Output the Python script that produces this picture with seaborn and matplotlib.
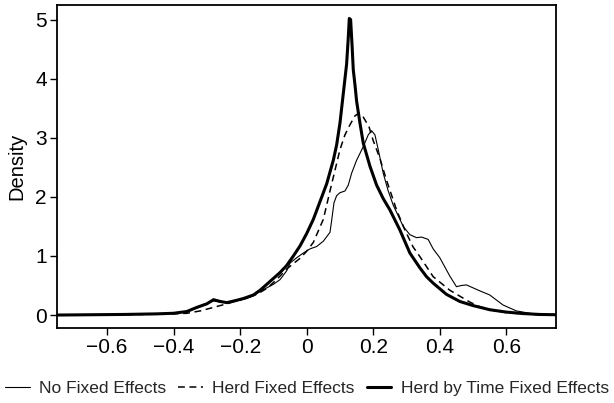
"""
Density of estimated effects under different fixed effect specifications
"""

# Importing libraries
import seaborn as sns
import matplotlib.pyplot as plt

# data
x_none = [-0.75, -0.65, -0.55, -0.45, -0.4, -0.36, -0.33, -0.3, -0.28, -0.26, -0.24,
          -0.21, -0.18, -0.16, -0.14, -0.12, -0.1, -0.08, -0.06, -0.05, -0.03, -0.01,
          0.01, 0.03, 0.05, 0.07, 0.075, 0.082, 0.09, 0.1, 0.115, 0.125, 0.135, 0.15,
          0.17, 0.185, 0.195, 0.205, 0.215, 0.23, 0.245, 0.26, 0.29, 0.31, 0.33, 0.345,
          0.365, 0.38, 0.4, 0.43, 0.45, 0.465, 0.48, 0.5, 0.52, 0.55, 0.59, 0.63, 0.67,
          0.7, 0.75]
y_none = [0.0, 0.005, 0.01, 0.02, 0.03, 0.06, 0.12, 0.19, 0.24, 0.22, 0.21,
          0.24, 0.28, 0.33, 0.40, 0.46, 0.52, 0.60, 0.75, 0.88, 0.97, 1.05,
          1.12, 1.16, 1.25, 1.40, 1.60, 1.90, 2.02, 2.07, 2.10, 2.20, 2.40, 2.62,
          2.85, 3.05, 3.12, 3.05, 2.80, 2.40, 2.10, 1.86, 1.50, 1.36, 1.31, 1.32,
          1.28, 1.12, 0.97, 0.66, 0.48, 0.50, 0.51, 0.46, 0.41, 0.34, 0.17, 0.07, 0.03,
          0.01, 0.0]

x_herd = [-0.75, -0.6, -0.5, -0.4, -0.36, -0.32, -0.28, -0.24, -0.21, -0.18, -0.15,
          -0.12, -0.1, -0.08, -0.06, -0.04, -0.02, 0.0, 0.02, 0.05, 0.07, 0.085, 0.1,
          0.115, 0.13, 0.145, 0.157, 0.17, 0.187, 0.2, 0.22, 0.24, 0.27, 0.295, 0.32,
          0.34, 0.38, 0.43, 0.49, 0.52, 0.56, 0.6, 0.65, 0.7, 0.75]
y_herd = [0.0, 0.005, 0.01, 0.02, 0.03, 0.07, 0.13, 0.19, 0.24, 0.29, 0.35,
          0.45, 0.55, 0.66, 0.78, 0.87, 0.96, 1.08, 1.23, 1.62, 2.10, 2.45, 2.80,
          3.05, 3.22, 3.37, 3.42, 3.35, 3.19, 2.95, 2.65, 2.28, 1.78, 1.44, 1.15,
          0.99, 0.65, 0.42, 0.22, 0.14, 0.08, 0.04, 0.02, 0.005, 0.0]

x_time = [-0.75, -0.65, -0.55, -0.45, -0.4, -0.36, -0.33, -0.3, -0.28, -0.26, -0.24,
          -0.21, -0.19, -0.16, -0.14, -0.12, -0.1, -0.08, -0.06, -0.04, -0.02, 0.0,
          0.02, 0.04, 0.06, 0.08, 0.09, 0.1, 0.11, 0.12, 0.125, 0.128, 0.132, 0.136,
          0.14, 0.145, 0.15, 0.16, 0.17, 0.19, 0.21, 0.23, 0.25, 0.28, 0.31, 0.34,
          0.36, 0.38, 0.42, 0.46, 0.5, 0.55, 0.6, 0.65, 0.7, 0.75]
y_time = [0.0, 0.005, 0.01, 0.02, 0.03, 0.06, 0.13, 0.19, 0.26, 0.23, 0.21,
          0.25, 0.28, 0.34, 0.42, 0.52, 0.62, 0.72, 0.84, 1.0, 1.17, 1.38,
          1.62, 1.92, 2.22, 2.62, 2.88, 3.25, 3.75, 4.25, 4.70, 5.02, 5.0, 4.6,
          4.15, 3.9, 3.62, 3.25, 2.91, 2.52, 2.2, 1.97, 1.78, 1.44, 1.05, 0.80,
          0.65, 0.54, 0.35, 0.23, 0.16, 0.09, 0.05, 0.025, 0.01, 0.005]

x_ticks = [-0.6, -0.4, -0.2, 0, 0.2, 0.4, 0.6]
x_tick_labels = ['\u22120.6', '\u22120.4', '\u22120.2', '0', '0.2', '0.4', '0.6']
y_ticks = [0, 1, 2, 3, 4, 5]

sns.set_theme(style='ticks')
plt.rcParams['font.family'] = ['Liberation Sans', 'DejaVu Sans']

fig = plt.figure(figsize=(6.14, 4.03), dpi=100)
ax = fig.add_axes([0.093, 0.186, 0.813, 0.802])

# Draw the three density curves
sns.lineplot(x=x_none, y=y_none, ax=ax, color='black', linewidth=0.8,
             label='No Fixed Effects')
sns.lineplot(x=x_herd, y=y_herd, ax=ax, color='black', linewidth=1.1,
             linestyle=(0, (4.5, 3)), label='Herd Fixed Effects')
sns.lineplot(x=x_time, y=y_time, ax=ax, color='black', linewidth=2.2,
             label='Herd by Time Fixed Effects')

ax.set_xlim(-0.75, 0.75)
ax.set_ylim(-0.22, 5.25)
ax.set_xticks(x_ticks)
ax.set_xticklabels(x_tick_labels)
ax.set_yticks(y_ticks)
ax.set_xlabel('')
ax.set_ylabel('Density', fontsize=14.5, color='black', labelpad=6)
ax.tick_params(labelsize=15, colors='black', length=5, width=1, pad=2.5)
for spine in ax.spines.values():
    spine.set_visible(True)
    spine.set_color('black')
    spine.set_linewidth(1.3)

# Legend below the plot
handles, labels = ax.get_legend_handles_labels()
ax.get_legend().remove()
fig.legend(handles, labels, loc='center', bbox_to_anchor=(0.5, 0.037), ncol=3,
           frameon=False, fontsize=12.5, handlelength=1.4, handletextpad=0.55,
           columnspacing=0.7, borderaxespad=0, borderpad=0)

plt.savefig('out.png', dpi=100)
